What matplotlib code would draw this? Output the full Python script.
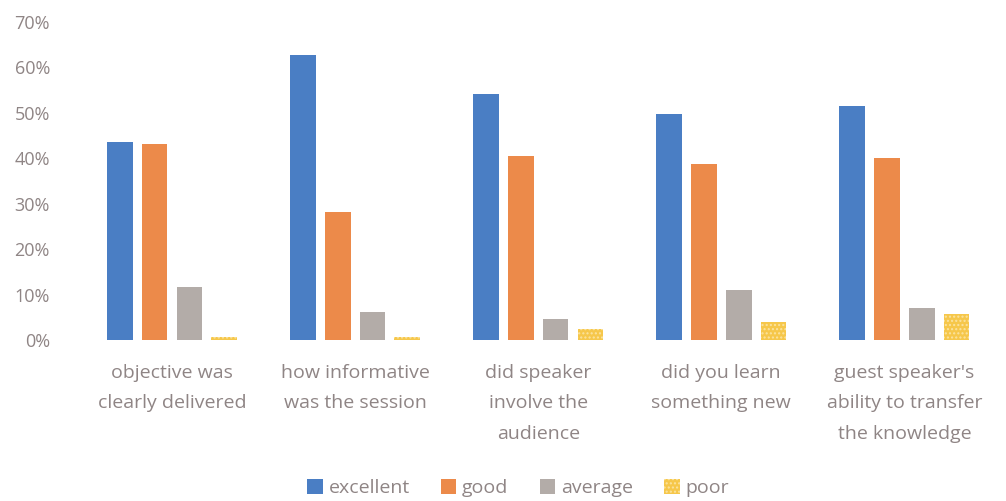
import numpy as np
import matplotlib
matplotlib.use("Agg")
import matplotlib.pyplot as plt
from matplotlib.ticker import PercentFormatter

categories = ["objective was\nclearly delivered", "how informative\nwas the session",
              "did speaker\ninvolve the\naudience", "did you learn\nsomething new",
              "guest speaker's\nability to transfer\nthe knowledge"]
excellent = [43.6, 62.7, 54.1, 49.8, 51.5]
good = [43.1, 28.1, 40.6, 38.7, 40.0]
average = [11.8, 6.1, 4.7, 11.0, 7.0]
poor = [0.6, 0.7, 2.4, 4.1, 5.8]

series = ["excellent", "good", "average", "poor"]
colors = ["#4a7ec4", "#ec8a4a", "#b3aca8", "#f6c74a"]

plt.rcParams["font.family"] = ["Open Sans", "DejaVu Sans"]
text_col = "#8f8585"

fig = plt.figure(figsize=(10.06, 5.01), dpi=100)
ax = fig.add_axes([0.08, 0.321, 0.91, 0.635])

x = np.arange(len(categories))
width = 0.14
step = 0.19
for i, (name, vals, c) in enumerate(zip(series, [excellent, good, average, poor], colors)):
    offs = (i - 1.5) * step
    kw = {}
    if name == "poor":
        kw = dict(hatch="....", edgecolor="#fbe3a0", linewidth=0)
    ax.bar(x + offs, np.array(vals) / 100, width, color=c, label=name, **kw)

ax.set_xlim(-0.5, len(categories) - 0.5)
ax.set_ylim(0, 0.7)
ax.set_yticks(np.arange(0, 0.71, 0.1))
ax.yaxis.set_major_formatter(PercentFormatter(1.0, decimals=0))
ax.set_xticks(x)
ax.set_xticklabels(categories, fontsize=14, color=text_col, linespacing=1.9)
ax.tick_params(axis="y", labelsize=13, labelcolor=text_col, length=0, pad=22)
ax.tick_params(axis="x", length=0, pad=17)
for s in ax.spines.values():
    s.set_visible(False)

fig.legend(loc="center", bbox_to_anchor=(0.515, 0.026), ncol=4, frameon=False,
           fontsize=14, labelcolor=text_col, handlelength=0.8, handleheight=0.8,
           handletextpad=0.3, columnspacing=1.6)

fig.savefig("out.png", dpi=100, facecolor="white")
